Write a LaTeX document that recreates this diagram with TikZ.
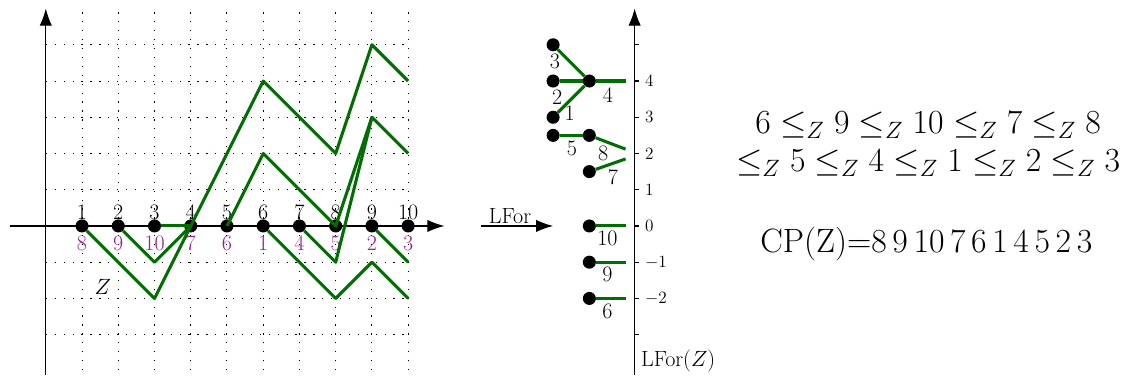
\RequirePackage{fix-cm}
\documentclass[tikz,border=0pt]{standalone}
\usetikzlibrary{arrows.meta}
\definecolor{pathgreen}{RGB}{0,110,0}
\definecolor{labpurple}{RGB}{150,30,150}
\tikzset{
  blackdot/.style={circle,fill=black,inner sep=0pt,minimum size=0.36cm},
  lab/.style={font=\fontsize{17.3}{20}\selectfont,inner sep=0pt},
  plab/.style={lab,text=labpurple},
  ticklab/.style={font=\fontsize{13.5}{16}\selectfont,anchor=west,inner sep=0pt},
  gpath/.style={draw=pathgreen,line width=2.4pt,line join=round},
  axisline/.style={line width=0.9pt,-{Latex[length=4.7mm,width=3.4mm]}},
  gridline/.style={line width=0.8pt,dash pattern=on 1pt off 6pt},
  bigtext/.style={font=\fontsize{26.5}{29.5}\selectfont,inner sep=0pt},
}
\begin{document}
\begin{tikzpicture}
\useasboundingbox (-1.264,-4.139) rectangle (29.81,6.236);
% grid and axes
\draw[gridline] (0,-3.98) grid (10,5.98);
\coordinate (xa) at (-1,0); \coordinate (xb) at (11,0);
\coordinate (ya) at (0,-4.1); \coordinate (yb) at (0,6);
\draw[axisline] (xa) -- (xb);
\draw[axisline] (ya) -- (yb);
% dots and labels
\foreach \i in {1,...,10} \node[blackdot] (d\i) at (\i,0) {};
\foreach \i in {1,...,10} \node[lab] (t\i) at (\i,0.37) {\i};
\foreach \i/\l in {1/8,2/9,3/10,4/7,5/6,6/1,7/4,8/5,9/2,10/3}
  \node[plab] (b\i) at (\i,-0.48) {\l};
\node[lab] (zl) at (1.57,-1.68) {$Z$};
% paths
\coordinate (p1) at (3,-2); \coordinate (p2) at (6,4); \coordinate (p3) at (8,2);
\coordinate (p4) at (9,5); \coordinate (p5) at (10,4);
\coordinate (q1) at (3,-1);
\coordinate (r1) at (6,2); \coordinate (r2) at (9,3); \coordinate (r3) at (10,2);
\coordinate (s1) at (8,-2); \coordinate (s2) at (9,-1); \coordinate (s3) at (10,-2);
\coordinate (u1) at (8,-1);
\coordinate (v1) at (10,-1);
\draw[gpath] (d1) -- (p1) -- (p2) -- (p3) -- (p4) -- (p5);
\draw[gpath] (d2) -- (q1) -- (d4.center);
\draw[gpath] (d3) -- (d4.center);
\draw[gpath] (d5.center) -- (r1) -- (d8.center) -- (r2) -- (r3);
\draw[gpath] (d6) -- (s1) -- (s2) -- (s3);
\draw[gpath] (d7) -- (u1) -- (r2);
\draw[gpath] (d9) -- (v1);
% LFor arrow
\coordinate (la) at (12,0); \coordinate (lb) at (14,0);
\draw[axisline] (la) -- (lb) node[lab,pos=0.405,above,inner sep=1.5pt] (lforlab) {LFor};
% right axis
\coordinate (ra) at (16.25,-4.1); \coordinate (rb) at (16.25,6);
\draw[axisline] (ra) -- (rb);
\foreach \y in {-3,...,5} \draw[line width=0.9pt] (16.25,\y) -- (16.37,\y);
\foreach \y/\t/\n in {4/4/a,3/3/b,2/2/c,1/1/d,0/0/e,-1/$-1$/f,-2/$-2$/g}
  \node[ticklab] (tick\n) at (16.53,\y) {\t};
\node[lab,anchor=west] (lforz) at (16.42,-3.72) {LFor$(Z)$};
% forest
\node[blackdot] (f3) at (14,5) {};
\node[blackdot] (f2) at (14,4) {};
\node[blackdot] (f1) at (14,3) {};
\node[blackdot] (f4) at (15,4) {};
\node[blackdot] (f5) at (14,2.5) {};
\node[blackdot] (f8) at (15,2.5) {};
\node[blackdot] (f7) at (15,1.5) {};
\node[blackdot] (f10) at (15,0) {};
\node[blackdot] (f9) at (15,-1) {};
\node[blackdot] (f6) at (15,-2) {};
\coordinate (e4) at (16,4); \coordinate (e8) at (16,2.12); \coordinate (e7) at (16,1.85);
\coordinate (e10) at (16,0); \coordinate (e9) at (16,-1); \coordinate (e6) at (16,-2);
\draw[gpath] (f3) -- (f4);
\draw[gpath] (f2) -- (f4);
\draw[gpath] (f1) -- (f4);
\draw[gpath] (f4) -- (e4);
\draw[gpath] (f5) -- (f8);
\draw[gpath] (f8) -- (e8);
\draw[gpath] (f7) -- (e7);
\draw[gpath] (f10) -- (e10);
\draw[gpath] (f9) -- (e9);
\draw[gpath] (f6) -- (e6);
\node[lab] (l3) at (14.05,4.55) {3};
\node[lab] (l2) at (14.11,3.56) {2};
\node[lab] (l1) at (14.46,3.12) {1};
\node[lab] (l4) at (15.51,3.61) {4};
\node[lab] (l5) at (14.52,2.15) {5};
\node[lab] (l8) at (15.38,2.01) {8};
\node[lab] (l7) at (15.65,1.35) {7};
\node[lab] (l10) at (15.5,-0.35) {10};
\node[lab] (l9) at (15.5,-1.33) {9};
\node[lab] (l6) at (15.5,-2.35) {6};
% right text
\node[bigtext,align=center] (ineq) at (24.35,2.26)
  {$6 \leq_Z 9 \leq_Z 10 \leq_Z 7 \leq_Z 8$\\$\leq_Z 5 \leq_Z 4 \leq_Z 1 \leq_Z 2 \leq_Z 3$};
\node[bigtext] (cp) at (24.3,-0.5) {CP(Z)=8\,9\,10\,7\,6\,1\,4\,5\,2\,3};
\end{tikzpicture}
\end{document}
